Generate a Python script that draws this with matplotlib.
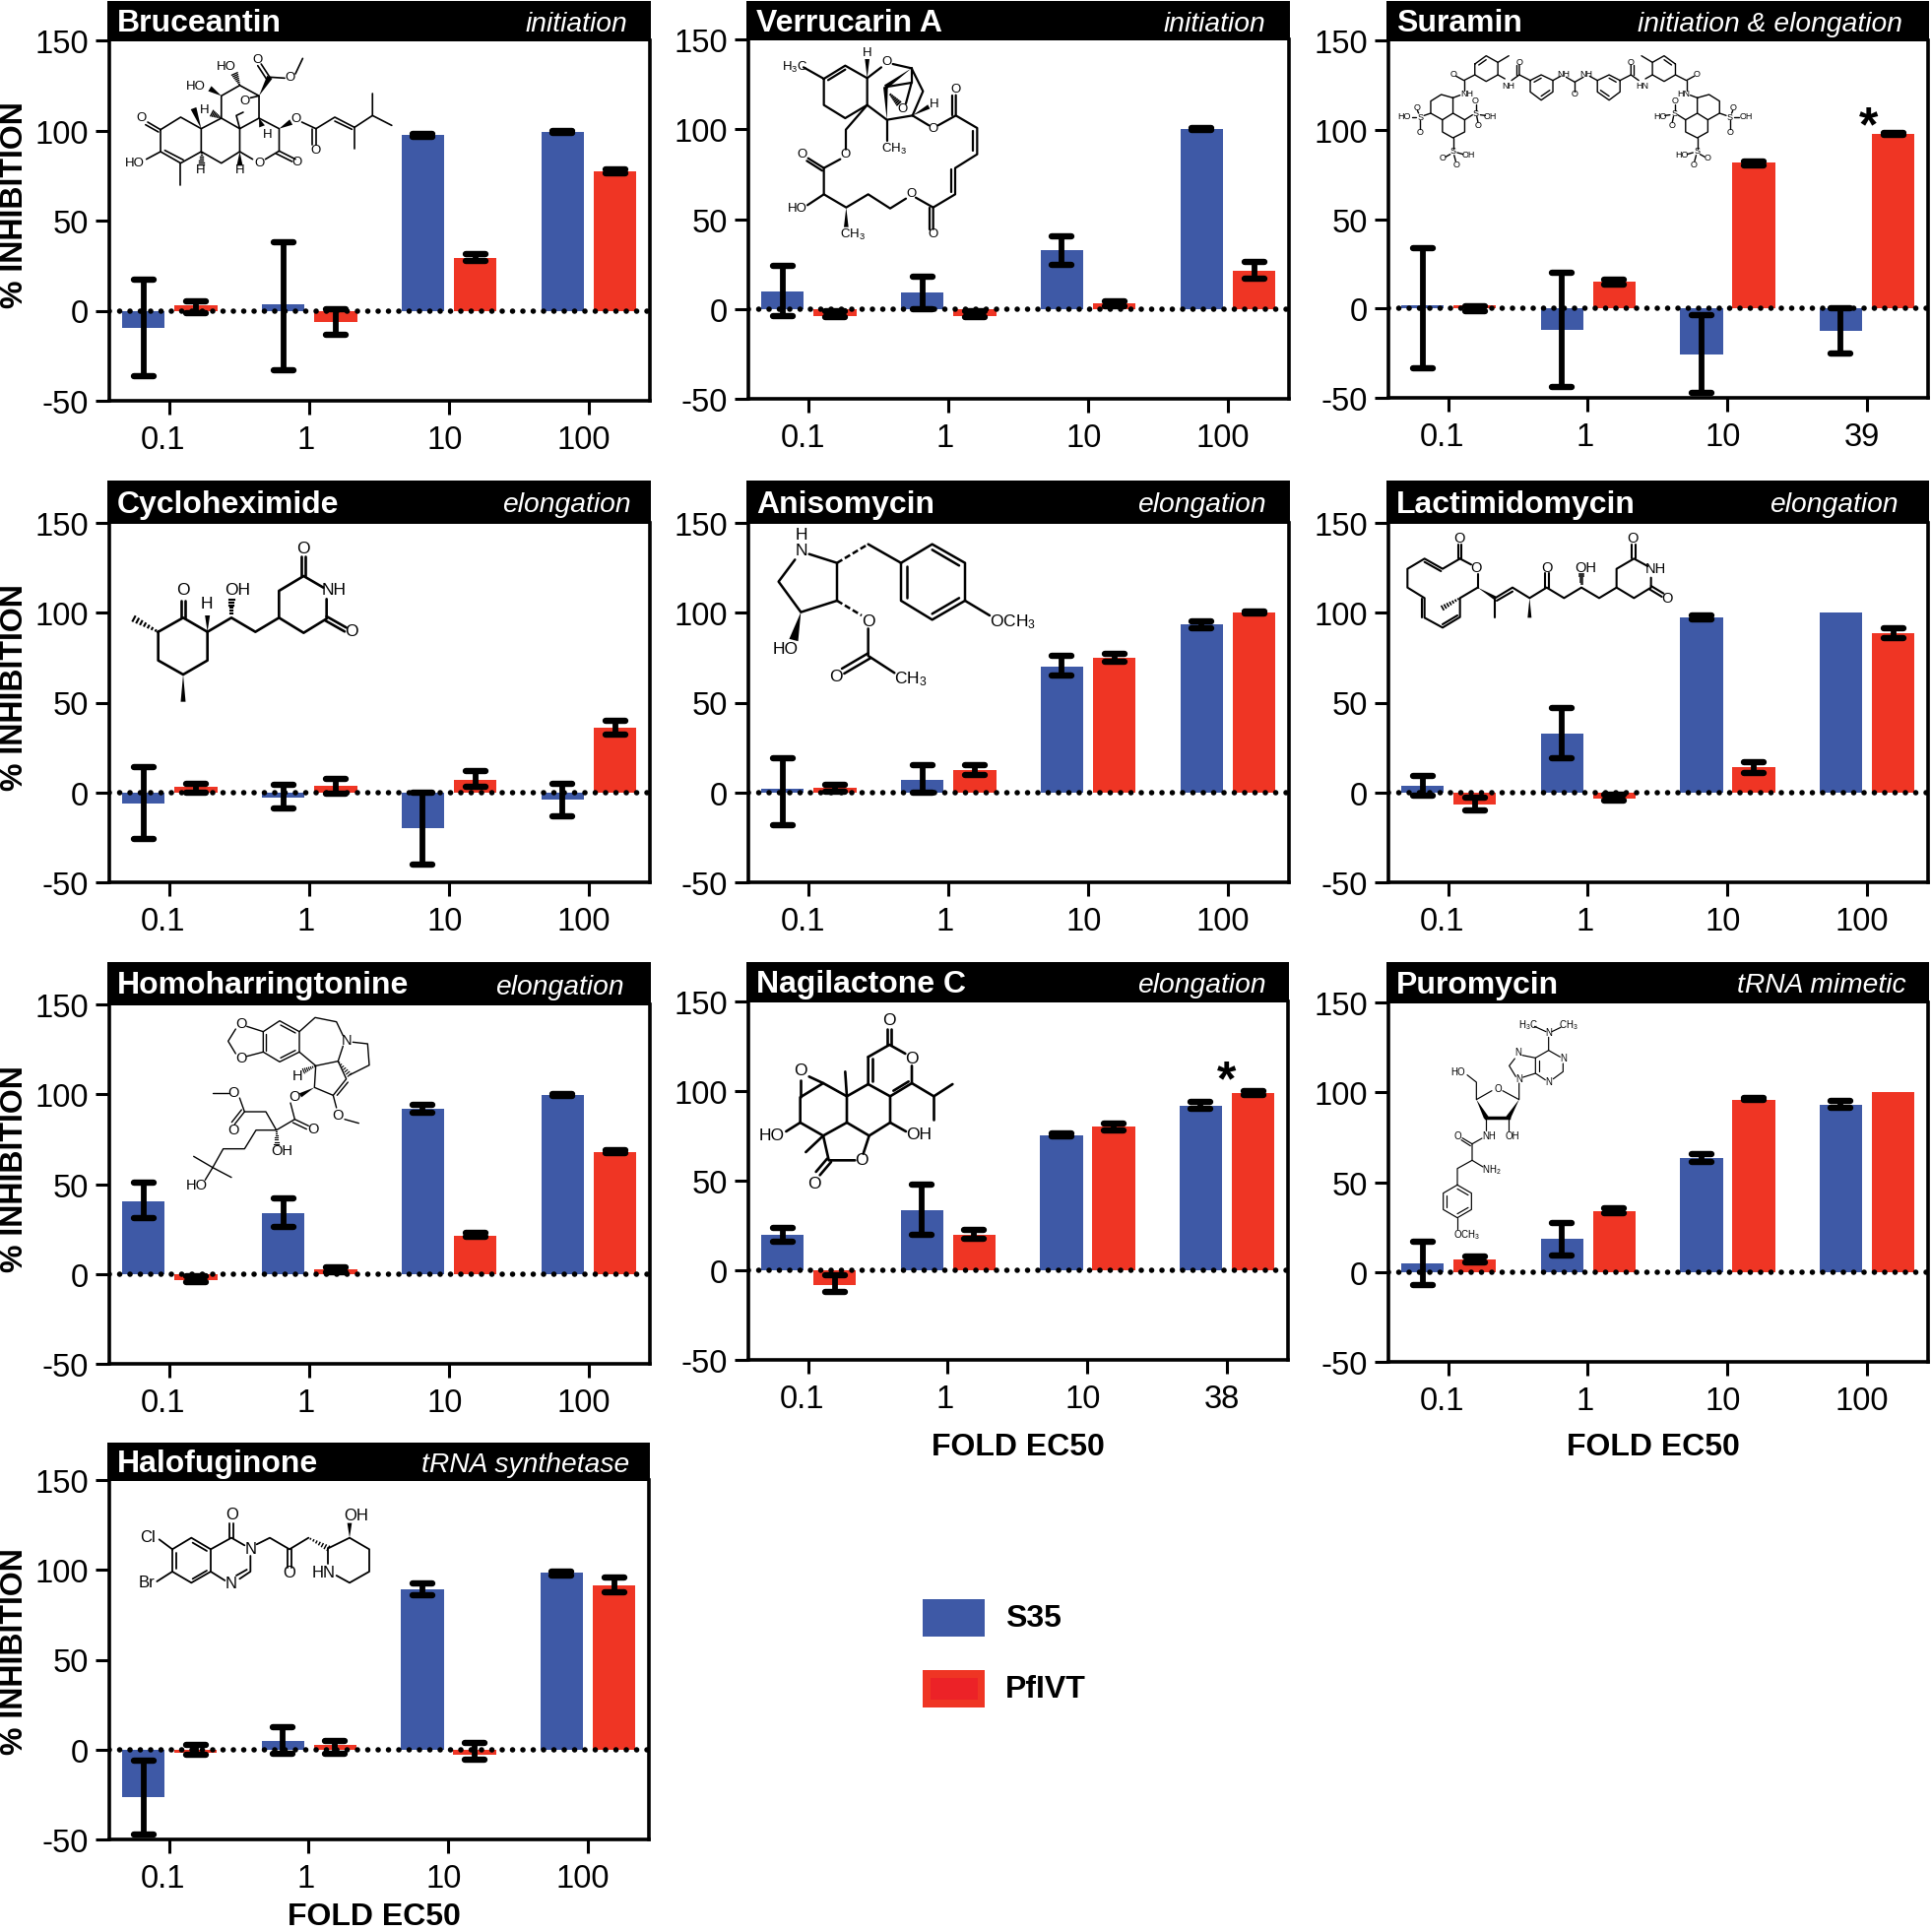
import numpy as np
import matplotlib
matplotlib.use("Agg")
import matplotlib.pyplot as plt
from matplotlib.patches import Rectangle, Polygon
from matplotlib.markers import MarkerStyle
from matplotlib.transforms import ScaledTranslation

plt.rcParams['font.family'] = ['Liberation Sans', 'DejaVu Sans']
plt.rcParams['mathtext.default'] = 'regular'
plt.rcParams['axes.unicode_minus'] = False

W, H = 1961, 1962
BLUE = '#3E59A6'
RED = '#EF3524'

# data
compounds = ["Bruceantin", "Verrucarin A", "Suramin", "Cycloheximide", "Anisomycin",
             "Lactimidomycin", "Homoharringtonine", "Nagilactone C", "Puromycin", "Halofuginone"]
modes = ["initiation", "initiation", "initiation & elongation", "elongation", "elongation",
         "elongation", "elongation", "elongation", "tRNA mimetic", "tRNA synthetase"]
doses = [["0.1", "1", "10", "100"], ["0.1", "1", "10", "100"], ["0.1", "1", "10", "39"],
         ["0.1", "1", "10", "100"], ["0.1", "1", "10", "100"], ["0.1", "1", "10", "100"],
         ["0.1", "1", "10", "100"], ["0.1", "1", "10", "38"], ["0.1", "1", "10", "100"],
         ["0.1", "1", "10", "100"]]

nan = float('nan')
s35 = [[-9.7, 3.5, 97.3, 99.3], [10, 9, 32.5, 100], [2, -12, -25.7, -12.8],
       [-6, -3, -20, -4], [2, 7, 70, 93.5], [3.5, 32.5, 97.5, 100],
       [40.5, 34, 92, 99.5], [20, 33.5, 75.5, 92], [5, 18.5, 63.5, 93],
       [-26.4, 5, 89.3, 98.4]]
s35_lo = [[-36.4, -33, 96.4, 98.6], [-4, 0, 24.5, 99.5], [-33.7, -44, -47.5, -25],
          [-26, -9, -40, -13.5], [-18, 0, 65, 91.5], [-2, 19, 96.5, nan],
          [31, 26, 90, 99], [16, 20, 74.5, 90], [-7, 9, 61.5, 91.5],
          [-47, -2.5, 86, 97]]
s35_hi = [[17, 38, 98, 100], [24, 18, 40.5, 100.5], [34, 20, -3.6, 0],
          [14, 4, 0, 5], [19, 15, 76, 95], [9, 47, 98.5, nan],
          [51, 42, 94, 100], [23.5, 48, 76.5, 94], [17, 27, 65.5, 95],
          [-6, 12.5, 92.5, 99]]
pfivt = [[3, -6.5, 29.5, 77.4], [-4, -4, 3, 21.5], [2, 15, 81.5, 97.4],
         [3, 3.5, 7, 36], [2.5, 12.5, 75, 100], [-6.5, -3.5, 14, 88.5],
         [-3.5, 2.5, 21.5, 68], [-8, 20, 80, 99], [7, 34, 96, 100],
         [-2, 2.7, -2.7, 91.3]]
pfivt_lo = [[-1.5, -13.5, 27.7, 76], [-4.5, -4.5, 1.5, 17], [-1.5, 13.5, 80.3, 97],
            [0, -0.5, 3, 32], [0.5, 10, 73, 99.5], [-10, -4.5, 11, 86],
            [-4.5, 1, 20.5, 67], [-12, 17.5, 78, 98], [5.5, 32.5, 95.5, nan],
            [-3, -2.5, -5.8, 87.3]]
pfivt_hi = [[5, 0.7, 31.3, 78.5], [-1.5, -1.5, 4, 26], [1.5, 16, 82.5, 98],
            [5, 7.5, 12, 40], [4, 15, 77, 100.5], [-3, -1.5, 17, 91.5],
            [-1.5, 3.5, 23, 69], [-3, 22.5, 82, 100], [8.5, 35.5, 97, nan],
            [2.4, 4.7, 3.5, 95.5]]
y_ticks = [-50, 0, 50, 100, 150]

# panel layout in pixels: left, right, y of 150, y of -50, header top, right end of the mode text
layout = [(111, 660, 41, 407, 1, 637), (760, 1309, 40, 405, 1, 1285), (1410, 1958, 41, 404, 1, 1932),
          (111, 660, 531, 896, 488, 641), (760, 1309, 531, 896, 488, 1286), (1410, 1958, 531, 896, 488, 1928),
          (111, 660, 1020, 1385, 977, 634), (760, 1308, 1017, 1381, 977, 1286), (1410, 1958, 1018, 1383, 977, 1936),
          (111, 659, 1503, 1868, 1465, 639)]
xlabel_shift = [-6, -3, -4, -5]


def draw_bars(ax, xpos, vals, lo, hi, color):
    ax.bar(xpos, vals, width=0.306, color=color, edgecolor='none', zorder=2)
    for x, a, b in zip(xpos, lo, hi):
        if np.isnan(a):
            continue
        cont = ax.errorbar(x, (a + b) / 2, yerr=(b - a) / 2, fmt='none', ecolor='black',
                           elinewidth=4.2, capsize=7.5, capthick=4.6, zorder=4)
        for cap in cont[1]:
            cap.set_marker(MarkerStyle('_', capstyle='round'))


fig = plt.figure(figsize=(W / 100, H / 100), dpi=100)
ov = fig.add_axes([0, 0, 1, 1], zorder=10)
ov.set_xlim(0, W)
ov.set_ylim(H, 0)
ov.axis('off')

for i, name in enumerate(compounds):
    left, right, ytop, ybot, htop, mode_right = layout[i]
    ax = fig.add_axes([left / W, 1 - ybot / H, (right - left) / W, (ybot - ytop) / H])
    x = np.arange(4)
    draw_bars(ax, x - 0.185, s35[i], s35_lo[i], s35_hi[i], BLUE)
    draw_bars(ax, x + 0.19, pfivt[i], pfivt_lo[i], pfivt_hi[i], RED)
    ax.axhline(0, color='black', lw=4, linestyle=(0, (0.01, 1.88)), dash_capstyle='round', zorder=3)
    ax.set_xlim(-0.43, 3.44)
    ax.set_ylim(-50, 150)
    ax.set_yticks(y_ticks)
    ax.set_xticks(x, doses[i])
    ax.tick_params(axis='both', width=2.2, length=10, labelsize=23.5)
    ax.tick_params(axis='x', pad=8)
    ax.tick_params(axis='y', pad=5)
    ax.spines['top'].set_visible(False)
    for s in ['left', 'bottom', 'right']:
        ax.spines[s].set_linewidth(2.6)
    for k, lab in enumerate(ax.get_xticklabels()):
        lab.set_transform(lab.get_transform() + ScaledTranslation(xlabel_shift[k] / 100, 0, fig.dpi_scale_trans))
    for lab in ax.get_yticklabels():
        lab.set_transform(lab.get_transform() + ScaledTranslation(0, -1 / 100, fig.dpi_scale_trans))

    # black header strip
    ov.add_patch(Rectangle((left - 2, htop), right - left + 3, ytop - htop + 1, color='black', lw=0))
    ymid = (htop + ytop) / 2 + 3
    ov.text(left + 8, ymid, name, color='white', fontsize=23, fontweight='bold', ha='left', va='center')
    ov.text(mode_right, ymid + 1, modes[i], color='white', fontsize=20.3, fontstyle='italic', ha='right', va='center')

# axis words
for yc in [208, 698, 1187, 1677]:
    ov.text(15, yc, "% INHIBITION", fontsize=23, fontweight='bold', rotation=90, ha='center', va='center')
for xc, yc in [(1034, 1470), (1679, 1470), (380, 1947)]:
    ov.text(xc, yc, "FOLD EC50", fontsize=23, fontweight='bold', ha='center', va='center')

# significance stars
ov.text(1898, 130, "*", fontsize=36, fontweight='bold', ha='center', va='center')
ov.text(1246, 1099, "*", fontsize=36, fontweight='bold', ha='center', va='center')

# legend
ov.add_patch(Rectangle((937, 1624), 63, 38, color=BLUE, lw=0))
ov.add_patch(Rectangle((937, 1696), 63, 38, color=RED, lw=0))
ov.add_patch(Rectangle((945, 1704), 48, 22, color='#EC2227', lw=0))
ov.text(1021, 1644, "S35", fontsize=23, fontweight='bold', ha='left', va='center')
ov.text(1021, 1716, "PfIVT", fontsize=23, fontweight='bold', ha='left', va='center')


# structure drawings, coordinates in a local grid mapped by origin and scale
def draw_mol(origin, scale, bonds, wedges=(), hashes=(), labels=(), lw=1.3, fs=10, wedge_w=9):
    ox, oy = origin
    kx, ky = scale
    def m(p):
        return ox + p[0] * kx, oy + p[1] * ky
    for path in bonds:
        pts = [m(p) for p in path]
        ov.plot([p[0] for p in pts], [p[1] for p in pts], color='black', lw=lw,
                solid_capstyle='round', solid_joinstyle='round')
    for a, b in wedges:
        a, b = np.array(m(a)), np.array(m(b))
        d = b - a
        n = np.array([-d[1], d[0]]) / np.hypot(*d) * wedge_w * kx / 2
        ov.add_patch(Polygon([a, b + n, b - n], color='black', lw=0))
    for a, b in hashes:
        a, b = np.array(m(a)), np.array(m(b))
        d = b - a
        n = np.array([-d[1], d[0]]) / np.hypot(*d) * wedge_w * kx / 2
        for t in np.linspace(0.1, 1, 7):
            c = a + d * t
            ov.plot([c[0] - n[0] * t, c[0] + n[0] * t], [c[1] - n[1] * t, c[1] + n[1] * t],
                    color='black', lw=lw * 0.8)
    for px, py, s in labels:
        qx, qy = m((px, py))
        ov.text(qx, qy, s, fontsize=fs, ha='center', va='center')


# Bruceantin
draw_mol((0, 0), (1 / 2.3, 1 / 3),
         [[(375, 395), (422, 357), (470, 392), (470, 462), (422, 497), (375, 462), (375, 395)],
          [(385, 458), (428, 487)], [(375, 395), (345, 372)], [(370, 402), (340, 380)],
          [(375, 462), (342, 485)], [(422, 497), (422, 565)],
          [(470, 392), (517, 360), (560, 392), (560, 462), (517, 497), (470, 462)],
          [(517, 360), (517, 292), (560, 260), (605, 292), (605, 360), (560, 392)],
          [(630, 235), (610, 195)], [(622, 240), (602, 200)], [(630, 235), (665, 238)], [(690, 225), (707, 178)],
          [(560, 392), (552, 352), (568, 342)], [(585, 298), (605, 292)],
          [(605, 360), (652, 392), (652, 460), (620, 485)], [(590, 485), (560, 462)],
          [(652, 460), (690, 485)], [(645, 468), (682, 492)],
          [(705, 372), (738, 392)], [(738, 392), (738, 440)], [(730, 392), (730, 440)],
          [(738, 392), (782, 357), (828, 388), (870, 352), (870, 285)], [(870, 352), (915, 382)],
          [(828, 388), (828, 452)], [(782, 369), (822, 394)]],
         wedges=[((470, 392), (452, 330)), ((517, 292), (490, 270)), ((605, 292), (630, 235)),
                 ((652, 392), (680, 372)), ((605, 360), (612, 385)), ((560, 462), (560, 505))],
         hashes=[((560, 260), (548, 225)), ((470, 462), (470, 500)), ((517, 360), (495, 345))],
         labels=[(330, 360, "O"), (315, 498, "HO"), (458, 265, "HO"), (528, 205, "HO"), (601, 183, "O"),
                 (678, 238, "O"), (572, 310, "O"), (605, 498, "O"), (692, 362, "O"), (694, 495, "O"),
                 (737, 458, "O"), (478, 335, "H"), (624, 410, "H"), (560, 520, "H"), (468, 520, "H")],
         lw=1.2, fs=9.5, wedge_w=14)

# Verrucarin A
draw_mol((780, 40), (1 / 3, 1 / 3),
         [[(108, 85), (170, 120), (235, 80), (302, 118), (302, 200), (235, 240), (170, 200), (170, 120)],
          [(183, 124), (235, 92)], [(302, 118), (345, 85)], [(380, 75), (437, 88), (472, 158), (440, 232)],
          [(302, 200), (362, 245), (440, 232)], [(358, 145), (437, 132), (420, 195)], [(437, 88), (437, 132)],
          [(362, 245), (362, 310)], [(440, 232), (490, 262)], [(518, 262), (572, 232), (572, 170)],
          [(562, 232), (562, 170)],
          [(572, 232), (637, 270), (637, 350), (570, 392), (570, 472), (503, 512), (503, 578)],
          [(493, 512), (493, 578)], [(625, 280), (625, 340)], [(557, 395), (557, 465)],
          [(503, 512), (450, 482)], [(420, 485), (372, 515), (305, 472), (238, 512), (170, 472), (170, 392)],
          [(170, 472), (120, 505)], [(170, 392), (122, 362)], [(165, 400), (118, 370)], [(170, 392), (220, 365)],
          [(237, 335), (237, 275), (302, 200)]],
         wedges=[((437, 88), (358, 145)), ((362, 245), (358, 145)), ((302, 118), (302, 60)),
                 ((440, 232), (490, 205)), ((238, 512), (238, 572))],
         hashes=[((370, 165), (398, 195))],
         labels=[(80, 85, r"H$_3$C"), (302, 42, "H"), (362, 70, "O"), (410, 212, "O"), (507, 198, "H"),
                 (503, 272, "O"), (570, 152, "O"), (383, 335, r"CH$_3$"), (237, 352, "O"), (105, 352, "O"),
                 (437, 472, "O"), (90, 515, "HO"), (258, 595, r"CH$_3$"), (503, 593, "O")],
         lw=1.6, fs=9.5, wedge_w=14)

# Suramin, the right half mirrors the left half
sur_bonds = [[(540, 245), (568, 228), (598, 245), (598, 280), (568, 305), (540, 280), (540, 245)],
             [(550, 250), (568, 238)], [(590, 275), (568, 293)], [(598, 245), (618, 232)],
             [(540, 245), (512, 228), (512, 198)], [(505, 228), (505, 198)], [(512, 228), (492, 245)],
             [(398, 195), (427, 170), (457, 190), (457, 228), (427, 248), (398, 228), (398, 195)],
             [(408, 198), (427, 182)], [(457, 190), (485, 170)], [(457, 228), (475, 240)],
             [(398, 228), (370, 245), (350, 232)], [(370, 245), (370, 275)],
             [(342, 298), (312, 288), (285, 308), (285, 345), (315, 365), (342, 345), (342, 298)],
             [(342, 345), (372, 365), (372, 402), (342, 420), (315, 402), (315, 365)],
             [(342, 298), (360, 290)], [(285, 345), (268, 352)], [(372, 365), (392, 350)],
             [(342, 420), (342, 452)],
             [(254, 345), (251, 337)], [(258, 367), (258, 392)], [(248, 356), (236, 356)],
             [(400, 335), (400, 318)], [(403, 355), (406, 372)], [(412, 350), (425, 352)],
             [(335, 470), (323, 478)], [(345, 473), (349, 491)], [(353, 465), (368, 470)]]
sur_labels = [(484, 262, "NH"), (378, 287, "NH"), (512, 190, "O"), (343, 228, "O"),
              (258, 357, "S"), (250, 327, "O"), (258, 403, "O"), (218, 355, "HO"),
              (400, 345, "S"), (400, 307, "O"), (407, 383, "O"), (438, 355, "OH"),
              (342, 462, "S"), (315, 482, "O"), (350, 502, "O"), (382, 472, "OH")]
swap = {"HO": "OH", "OH": "HO", "NH": "HN"}
sur_mirror = [[(1310 - px, py) for px, py in path] for path in sur_bonds]
sur_mirror_labels = [(1310 - px, py, swap.get(s, s)) for px, py, s in sur_labels]
draw_mol((1340, 0), (1 / 2.523, 1 / 3),
         sur_bonds + sur_mirror + [[(632, 235), (654, 250), (676, 235)], [(654, 250), (654, 278)]],
         labels=sur_labels + sur_mirror_labels + [(625, 225, "NH"), (682, 225, "NH"), (654, 288, "O")],
         lw=1.0, fs=6.5)

# Cycloheximide
draw_mol((120, 540), (1 / 3, 1 / 3),
         [[(122, 305), (198, 262), (272, 305), (272, 392), (198, 435), (122, 392), (122, 305)],
          [(192, 262), (192, 210)], [(204, 262), (204, 210)],
          [(272, 305), (345, 262), (418, 305), (490, 262), (490, 180), (565, 135), (625, 170)],
          [(635, 205), (635, 265), (565, 308), (490, 262)], [(559, 135), (559, 75)], [(571, 135), (571, 75)],
          [(635, 258), (695, 292)], [(630, 270), (690, 304)]],
         wedges=[((198, 435), (198, 518)), ((272, 305), (272, 255))],
         hashes=[((122, 305), (48, 265)), ((345, 262), (345, 208))],
         labels=[(198, 180, "O"), (270, 222, "H"), (362, 180, "OH"), (657, 180, "NH"), (565, 52, "O"), (712, 305, "O")],
         lw=1.9, fs=12.5, wedge_w=15)

# Anisomycin
draw_mol((770, 530), (1 / 3, 1 / 3),
         [[(112, 115), (62, 182), (130, 275), (240, 240), (240, 125), (155, 98)],
          [(335, 68), (435, 125), (530, 68), (630, 125), (630, 240), (530, 298), (435, 240), (435, 125)],
          [(452, 135), (452, 230)], [(530, 85), (612, 133)], [(530, 280), (612, 232)], [(630, 240), (705, 285)],
          [(335, 325), (335, 408), (415, 460)], [(335, 400), (255, 447)], [(342, 415), (262, 462)]],
         wedges=[((130, 275), (108, 360))],
         hashes=[],
         labels=[(132, 90, "N"), (132, 42, "H"), (775, 305, r"OCH$_3$"), (335, 305, "O"), (465, 478, r"CH$_3$"),
                 (238, 472, "O"), (82, 390, "HO")],
         lw=1.8, fs=12.5, wedge_w=28)
ov.plot([770 + 240 / 3, 770 + 335 / 3], [530 + 125 / 3, 530 + 68 / 3], color='black', lw=1.8, linestyle=(0, (2.5, 1.2)))
ov.plot([770 + 240 / 3, 770 + 315 / 3], [530 + 240 / 3, 530 + 285 / 3], color='black', lw=1.8, linestyle=(0, (2.5, 1.2)))

# Lactimidomycin
draw_mol((1420, 530), (1 / 3, 1 / 3),
         [[(182, 112), (182, 70)], [(193, 112), (193, 70)],
          [(188, 112), (135, 143), (80, 112), (28, 143), (28, 200), (80, 232), (80, 292), (135, 322), (188, 290), (188, 232), (242, 200)],
          [(188, 112), (222, 130)], [(242, 160), (242, 200)], [(80, 122), (130, 150)], [(72, 235), (72, 292)],
          [(135, 312), (180, 285)], [(295, 232), (348, 200), (400, 232), (452, 200), (505, 232), (558, 200), (612, 232), (665, 200), (665, 143), (718, 112), (760, 135)],
          [(770, 170), (770, 200), (718, 232), (665, 200)], [(300, 240), (348, 212)], [(295, 232), (295, 292)],
          [(446, 200), (446, 155)], [(458, 200), (458, 155)], [(712, 112), (712, 70)], [(724, 112), (724, 70)],
          [(770, 195), (808, 218)], [(765, 205), (803, 228)]],
         wedges=[((242, 200), (295, 232)), ((400, 232), (400, 292))],
         hashes=[((188, 232), (135, 262)), ((558, 200), (558, 160))],
         labels=[(187, 50, "O"), (238, 142, "O"), (452, 142, "O"), (572, 142, "OH"), (715, 50, "O"), (785, 143, "NH"), (820, 235, "O")],
         lw=1.5, fs=10.5, wedge_w=12)

# Homoharringtonine
draw_mol((180, 1025), (1 / 3, 1 / 3),
         [[(178, 60), (155, 97), (178, 135)], [(212, 52), (262, 68)], [(212, 143), (262, 130)],
          [(262, 68), (312, 35), (372, 68), (372, 130), (312, 160), (262, 130), (262, 68)],
          [(270, 75), (270, 125)], [(315, 48), (360, 72)], [(315, 148), (360, 125)],
          [(372, 68), (420, 25), (485, 38), (505, 80)], [(505, 112), (490, 158), (422, 172), (372, 130)],
          [(535, 100), (580, 105), (585, 170), (525, 200)], [(422, 172), (418, 238), (475, 262), (515, 212), (490, 158)],
          [(487, 262), (520, 222)], [(345, 285), (358, 335), (400, 355)], [(352, 345), (394, 365)],
          [(358, 335), (302, 368), (270, 312), (205, 312), (190, 270)], [(205, 312), (175, 350)], [(196, 306), (166, 344)],
          [(155, 255), (107, 255)], [(302, 368), (240, 368), (205, 425), (140, 425), (108, 482), (50, 448)],
          [(108, 482), (165, 512)], [(108, 482), (85, 520)], [(475, 262), (485, 300)], [(510, 335), (553, 347)]],
         wedges=[((418, 238), (375, 262))],
         hashes=[((422, 172), (385, 188)), ((490, 158), (525, 200)), ((302, 368), (302, 410))],
         labels=[(195, 45, "O"), (195, 150, "O"), (517, 95, "N"), (365, 205, "H"), (358, 268, "O"), (415, 367, "O"),
                 (172, 255, "O"), (170, 368, "O"), (318, 432, "OH"), (58, 537, "HO"), (490, 325, "O")],
         lw=1.0, fs=10.5, wedge_w=14)

# Nagilactone C
draw_mol((760, 1025), (1 / 3, 1 / 3),
         [[(365, 145), (430, 108), (478, 135)],
          [(498, 172), (498, 225), (432, 265), (432, 345), (368, 385), (300, 345), (300, 265), (365, 228), (365, 145)],
          [(300, 265), (228, 225), (158, 268), (158, 345), (228, 385), (300, 345)], [(378, 150), (378, 220)],
          [(442, 248), (488, 220)], [(365, 228), (432, 265)], [(424, 108), (424, 60)], [(436, 108), (436, 60)],
          [(300, 265), (295, 190)], [(158, 268), (158, 215)], [(185, 205), (228, 225)],
          [(498, 225), (565, 265), (622, 228)], [(565, 265), (565, 335)], [(432, 345), (480, 372)],
          [(368, 385), (350, 440)], [(325, 460), (245, 460), (228, 385)], [(252, 465), (218, 505)], [(240, 455), (206, 495)],
          [(228, 385), (175, 435)], [(158, 345), (115, 372)]],
         labels=[(498, 150, "O"), (430, 35, "O"), (158, 188, "O"), (518, 382, "OH"), (345, 460, "O"), (202, 532, "O"), (72, 385, "HO")],
         lw=1.9, fs=12.5)

# Puromycin
draw_mol((1440, 1025), (1 / 3, 1 / 3),
         [[(355, 52), (390, 68)], [(408, 68), (435, 55)], [(398, 85), (398, 125), (433, 145)], [(442, 165), (442, 190), (412, 212)],
          [(398, 125), (358, 148), (358, 195), (388, 215)], [(368, 155), (368, 190)], [(358, 148), (318, 140)],
          [(295, 150), (278, 172), (298, 205)], [(320, 207), (358, 195)], [(308, 225), (308, 275), (258, 248)],
          [(225, 248), (178, 275), (178, 222), (150, 200)], [(208, 330), (275, 330)], [(275, 330), (275, 370)],
          [(208, 330), (208, 370)], [(195, 393), (165, 410)], [(165, 410), (135, 392)], [(160, 416), (132, 398)],
          [(165, 410), (165, 460), (120, 485), (120, 535)], [(165, 460), (198, 480)],
          [(120, 535), (163, 560), (163, 610), (120, 635), (77, 610), (77, 560), (120, 535)],
          [(120, 547), (153, 566)], [(153, 604), (120, 623)], [(87, 604), (87, 566)], [(120, 635), (120, 670)]],
         wedges=[((178, 275), (208, 330)), ((308, 275), (275, 330))],
         labels=[(335, 48, r"H$_3$C"), (398, 72, "N"), (460, 48, r"CH$_3$"), (442, 150, "N"), (398, 222, "N"), (305, 132, "N"),
                 (308, 213, "N"), (243, 243, "O"), (122, 193, "HO"), (288, 387, "OH"), (218, 387, "NH"), (122, 387, "O"),
                 (225, 488, r"NH$_2$"), (150, 687, r"OCH$_3$")],
         lw=0.85, fs=7, wedge_w=15)
ov.plot([1440 + 208 / 3, 1440 + 275 / 3], [1025 + 330 / 3, 1025 + 330 / 3], color='black', lw=2.5)

# Halofuginone
draw_mol((130, 1520), (1 / 3, 1 / 3),
         [[(135, 160), (193, 125), (252, 160), (252, 228), (193, 262), (135, 228), (135, 160)],
          [(147, 170), (147, 218)], [(197, 140), (240, 165)], [(197, 250), (240, 225)],
          [(135, 160), (95, 130)], [(135, 228), (88, 258)], [(252, 160), (315, 125), (355, 148)],
          [(373, 180), (373, 228), (340, 250)], [(295, 255), (252, 228)], [(362, 222), (330, 240)],
          [(309, 125), (309, 80)], [(321, 125), (321, 80)], [(392, 145), (432, 125), (492, 160), (550, 125)],
          [(486, 160), (486, 215)], [(498, 160), (498, 215)],
          [(610, 157), (675, 125), (735, 160), (735, 228), (675, 262), (635, 240)], [(610, 205), (610, 157)]],
         wedges=[((675, 125), (675, 80))],
         hashes=[((550, 125), (610, 157))],
         labels=[(60, 125, "Cl"), (58, 262, "Br"), (373, 160, "N"), (315, 265, "N"), (317, 55, "O"), (492, 232, "O"),
                 (597, 232, "HN"), (695, 58, "OH")],
         lw=1.3, fs=12, wedge_w=14)

ov.set_xlim(0, W)
ov.set_ylim(H, 0)
fig.savefig("out.png", dpi=100)
